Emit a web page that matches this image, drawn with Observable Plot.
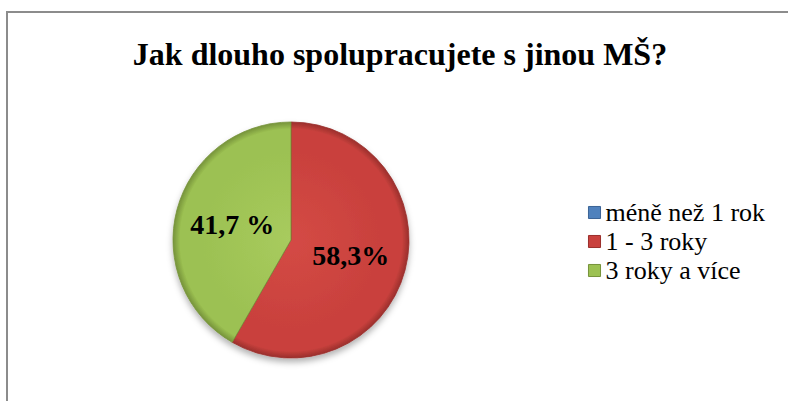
<!DOCTYPE html>
<html>
<head>
<meta charset="utf-8">
<script src="https://cdn.jsdelivr.net/npm/d3@7"></script>
<script src="https://cdn.jsdelivr.net/npm/@observablehq/plot@0.6"></script>
<style>
  body { margin: 0; background: #fff; }
  #wrap { position: relative; width: 788px; height: 401px; overflow: hidden; background: #fff; }
  #border { position: absolute; left: 6px; top: 11px; width: 900px; height: 500px;
            border-left: 2px solid #8c8c8c; border-top: 2px solid #8c8c8c; }
  #title { position: absolute; left: 0; top: 38px; width: 800px; text-align: center;
           font-family: "Liberation Serif", "Times New Roman", serif; font-weight: bold;
           font-size: 32px; line-height: 32px; color: #000; }
  #pie, #legend { position: absolute; }
  #pie { left: 0; top: 0; }
  #legend { left: 585px; top: 175px; }
  #pie text, #legend text { font-family: "Liberation Serif", "Times New Roman", serif !important; }
</style>
</head>
<body>
<div id="wrap">
  <div id="border"></div>
  <div id="title"></div>
  <div id="pie"></div>
  <div id="legend"></div>
</div>
<script>
const title = "Jak dlouho spolupracujete s jinou MŠ?";
const categories = ["méně než 1 rok", "1 - 3 roky", "3 roky a více"];
const shares = [0, 58.3, 41.7];
const sliceLabels = ["", "58,3%", "41,7 %"];
const baseColors = ["#4F81BD", "#C9413D", "#9CC152"];
const lightColors = ["#6A97D0", "#D44A45", "#A8CB5E"];
const darkColors = ["#3A6396", "#9A2F2C", "#76933A"];

document.getElementById("title").textContent = title;

const rows = categories.map((c, i) => ({
  category: c, value: shares[i], label: sliceLabels[i],
  base: baseColors[i], light: lightColors[i], dark: darkColors[i]
}));

const arcs = d3.pie().sort(null).value(d => d.value)(rows);
const labelArc = d3.arc().innerRadius(0).outerRadius(1.04);
const labelRows = arcs.filter(a => a.data.value > 0).map(a => {
  const [px, py] = labelArc.centroid(a);
  return { x: px, y: -py, label: a.data.label };
});

const serif = "Liberation Serif";

function pieMark(index, scales, values, dimensions) {
  const cx = scales.x(0), cy = scales.y(0), r = scales.x(1) - scales.x(0);
  const g = d3.create("svg:g");
  const defs = g.append("defs");
  const f = defs.append("filter").attr("id", "pieShadow")
    .attr("x", "-20%").attr("y", "-20%").attr("width", "140%").attr("height", "150%");
  f.append("feDropShadow").attr("dx", 0).attr("dy", 4).attr("stdDeviation", 3)
    .attr("flood-color", "#000").attr("flood-opacity", 0.3);
  arcs.forEach((a, i) => {
    const gr = defs.append("radialGradient").attr("id", "slice" + i)
      .attr("gradientUnits", "userSpaceOnUse")
      .attr("cx", 0).attr("cy", 0).attr("r", r);
    gr.append("stop").attr("offset", "0%").attr("stop-color", a.data.light);
    gr.append("stop").attr("offset", "75%").attr("stop-color", a.data.base);
    gr.append("stop").attr("offset", "94%").attr("stop-color", a.data.base);
    gr.append("stop").attr("offset", "100%").attr("stop-color", a.data.dark);
  });
  const arc = d3.arc().innerRadius(0).outerRadius(r);
  g.append("g").attr("transform", `translate(${cx},${cy})`).attr("filter", "url(#pieShadow)")
    .selectAll("path").data(arcs.filter(a => a.data.value > 0)).join("path")
    .attr("d", arc)
    .attr("fill", a => `url(#slice${arcs.indexOf(a)})`)
    .attr("stroke", a => a.data.dark)
    .attr("stroke-width", 0.8);
  return g.node();
}

const cx = 291, cy = 240, R = 118;
const pie = Plot.plot({
  width: 788, height: 401, margin: 0,
  x: { domain: [-1, 1], range: [cx - R, cx + R], axis: null },
  y: { domain: [-1, 1], range: [cy + R, cy - R], axis: null },
  style: { background: "transparent", overflow: "visible" },
  marks: [
    pieMark,
    Plot.text(labelRows, {
      x: "x", y: "y", text: "label",
      fontFamily: serif, fontWeight: "bold", fontSize: 28, fill: "#000"
    })
  ]
});
document.getElementById("pie").append(pie);

const legend = Plot.plot({
  width: 200, height: 132, margin: 0,
  y: { type: "point", domain: categories, range: [22, 110], axis: null },
  style: { background: "transparent", overflow: "visible" },
  marks: [
    Plot.dot(rows, {
      y: "category", frameAnchor: "left", dx: 9, symbol: "square", r: 6.8,
      fill: "base", stroke: "dark", strokeWidth: 1
    }),
    Plot.text(rows, {
      y: "category", frameAnchor: "left", dx: 20, text: "category",
      textAnchor: "start", fontFamily: serif, fontSize: 26, fill: "#000"
    })
  ]
});
document.getElementById("legend").append(legend);
</script>
</body>
</html>
